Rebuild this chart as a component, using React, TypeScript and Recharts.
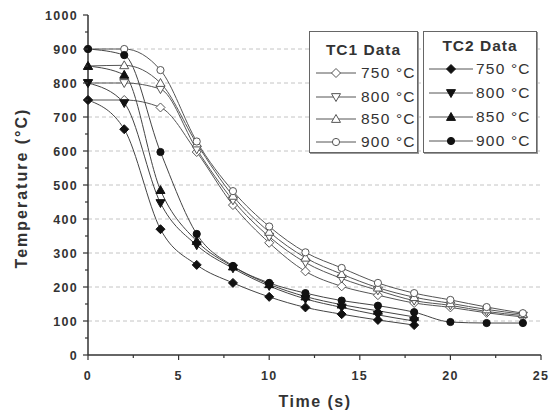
import { CartesianGrid, Line, LineChart, XAxis, YAxis } from "recharts";

const times = [0, 2, 4, 6, 8, 10, 12, 14, 16, 18, 20, 22, 24];

// TC1 (open markers)
const tc1_750 = [750, 750, 728, 597, 441, 330, 246, 202, 176, 153, 140, 124, 112];
const tc1_800 = [800, 800, 782, 605, 455, 348, 272, 225, 190, 160, 146, 128, 116];
const tc1_850 = [850, 852, 800, 622, 468, 362, 286, 238, 198, 170, 152, 134, 120];
const tc1_900 = [900, 900, 838, 628, 482, 378, 302, 256, 212, 182, 162, 141, 123];

// TC2 (filled markers)
const tc2_750 = [750, 664, 370, 265, 212, 171, 140, 120, 103, 88];
const tc2_800 = [800, 741, 447, 323, 255, 203, 165, 140, 118, 100];
const tc2_850 = [850, 824, 485, 335, 260, 208, 172, 148, 130, 112];
const tc2_900 = [900, 882, 597, 356, 262, 212, 182, 160, 145, 126, 97, 94, 94];

const xTicks = [0, 2.5, 5, 7.5, 10, 12.5, 15, 17.5, 20, 22.5, 25];
const yTicks = Array.from({ length: 21 }, (_, i) => i * 50);
const gridValues = [100, 200, 300, 400, 500, 600, 700, 800, 900];
const legendLabels = ["750 °C", "800 °C", "850 °C", "900 °C"];

const FONT = '"Liberation Sans", Arial, sans-serif';
const INK = "#333";

type Shape = "diamond" | "down" | "up" | "circle";

const toData = (vals: number[]) => vals.map((v, i) => ({ t: times[i], v }));

function Marker({ cx, cy, shape, filled }: { cx: number; cy: number; shape: Shape; filled: boolean }) {
  const fill = filled ? "#111" : "#fff";
  const stroke = filled ? "#111" : "#555";
  const r = 4.5;
  if (shape === "circle") {
    return <circle cx={cx} cy={cy} r={3.6} fill={fill} stroke={stroke} strokeWidth={1} />;
  }
  let pts = "";
  if (shape === "diamond") pts = `${cx},${cy - r} ${cx + r},${cy} ${cx},${cy + r} ${cx - r},${cy}`;
  if (shape === "down") pts = `${cx - r},${cy - r * 0.75} ${cx + r},${cy - r * 0.75} ${cx},${cy + r}`;
  if (shape === "up") pts = `${cx},${cy - r} ${cx + r},${cy + r * 0.75} ${cx - r},${cy + r * 0.75}`;
  return <polygon points={pts} fill={fill} stroke={stroke} strokeWidth={1} />;
}

const dotFor = (shape: Shape, filled: boolean) => (props: any) => (
  <Marker key={`${shape}-${filled}-${props.index}`} cx={props.cx} cy={props.cy} shape={shape} filled={filled} />
);

function XTick({ x, y, payload }: any) {
  const major = payload.value % 5 === 0;
  return (
    <g>
      <line x1={x} x2={x} y1={y} y2={y + (major ? 5 : 3)} stroke={INK} strokeWidth={1.2} />
      {major && (
        <text x={x} y={y + 25} textAnchor="middle" fontSize={12.5} fontWeight="bold" fill={INK} fontFamily={FONT} letterSpacing={1.3}>
          {payload.value}
        </text>
      )}
    </g>
  );
}

function YTick({ x, y, payload }: any) {
  const major = payload.value % 100 === 0;
  return (
    <g>
      <line x1={x - (major ? 5 : 3)} x2={x} y1={y} y2={y} stroke={INK} strokeWidth={1.2} />
      {major && (
        <text x={x - 10} y={y + 4.5} textAnchor="end" fontSize={12.5} fontWeight="bold" fill={INK} fontFamily={FONT} letterSpacing={1.3}>
          {payload.value}
        </text>
      )}
    </g>
  );
}

const tc1 = [
  { name: "tc1-750", vals: tc1_750, shape: "diamond" as Shape },
  { name: "tc1-800", vals: tc1_800, shape: "down" as Shape },
  { name: "tc1-850", vals: tc1_850, shape: "up" as Shape },
  { name: "tc1-900", vals: tc1_900, shape: "circle" as Shape },
];
const tc2 = [
  { name: "tc2-750", vals: tc2_750, shape: "diamond" as Shape },
  { name: "tc2-800", vals: tc2_800, shape: "down" as Shape },
  { name: "tc2-850", vals: tc2_850, shape: "up" as Shape },
  { name: "tc2-900", vals: tc2_900, shape: "circle" as Shape },
];

function LegendBox({ left, width, title, titleTop, rows, filled, lineX, lineW, textX }: any) {
  return (
    <div
      style={{
        position: "absolute",
        left,
        top: 31,
        width,
        height: 122,
        boxSizing: "border-box",
        border: "1.5px solid #666",
        boxShadow: "1px 1px 0 #999",
        background: "#fff",
        fontFamily: FONT,
        color: INK,
      }}
    >
      <div style={{ position: "absolute", left: 0, right: 0, top: titleTop, textAlign: "center", fontWeight: "bold", fontSize: 15.5, letterSpacing: 1, lineHeight: "18px" }}>
        {title}
      </div>
      {rows.map((r: any, i: number) => (
        <div key={r.name} style={{ position: "absolute", left: 0, top: r.top, height: 20, width: "100%" }}>
          <svg width={lineW + 10} height={20} style={{ position: "absolute", left: lineX - 5, top: 0 }}>
            <line x1={5} x2={lineW + 5} y1={10} y2={10} stroke="#555" strokeWidth={1} />
            <Marker cx={lineW / 2 + 5} cy={10} shape={r.shape} filled={filled} />
          </svg>
          <span style={{ position: "absolute", left: textX, top: 0, lineHeight: "20px", fontSize: 15.5, letterSpacing: 1.2, whiteSpace: "nowrap" }}>
            {legendLabels[i]}
          </span>
        </div>
      ))}
    </div>
  );
}

export default function App() {
  return (
    <div style={{ position: "absolute", left: 0, top: 0, width: 550, height: 413, background: "#fff", fontFamily: FONT }}>
      <LineChart width={550} height={413} margin={{ top: 15, right: 9, left: 28, bottom: 0 }}>
        <CartesianGrid vertical={false} horizontalValues={gridValues} stroke="#c4c4c4" strokeDasharray="4 3" />
        <XAxis
          type="number"
          dataKey="t"
          domain={[0, 25]}
          ticks={xTicks}
          interval={0}
          height={58}
          tickSize={0}
          tickMargin={0}
          tick={<XTick />}
          axisLine={{ stroke: INK, strokeWidth: 1.5 }}
          tickLine={false}
        />
        <YAxis
          type="number"
          domain={[0, 1000]}
          ticks={yTicks}
          interval={0}
          width={60}
          tickSize={0}
          tickMargin={0}
          tick={<YTick />}
          axisLine={{ stroke: INK, strokeWidth: 1.5 }}
          tickLine={false}
        />
        {tc1.map((s) => (
          <Line
            key={s.name}
            data={toData(s.vals)}
            dataKey="v"
            type="monotone"
            stroke="#555"
            strokeWidth={1}
            dot={dotFor(s.shape, false)}
            isAnimationActive={false}
          />
        ))}
        {tc2.map((s) => (
          <Line
            key={s.name}
            data={toData(s.vals)}
            dataKey="v"
            type="monotone"
            stroke="#444"
            strokeWidth={1}
            dot={dotFor(s.shape, true)}
            isAnimationActive={false}
          />
        ))}
      </LineChart>

      <div
        style={{
          position: "absolute",
          left: 22,
          top: 188,
          transform: "translate(-50%, -50%) rotate(-90deg)",
          whiteSpace: "nowrap",
          fontWeight: "bold",
          fontSize: 16,
          letterSpacing: 2,
          color: INK,
        }}
      >
        Temperature (°C)
      </div>
      <div
        style={{
          position: "absolute",
          left: 315,
          top: 402,
          transform: "translate(-50%, -50%)",
          whiteSpace: "nowrap",
          fontWeight: "bold",
          fontSize: 16,
          letterSpacing: 1.5,
          color: INK,
        }}
      >
        Time (s)
      </div>

      <LegendBox
        left={309}
        width={109}
        title="TC1 Data"
        titleTop={9}
        filled={false}
        lineX={6}
        lineW={40}
        textX={51}
        rows={tc1.map((s, i) => ({ ...s, top: [31, 55, 77, 100][i] }))}
      />
      <LegendBox
        left={423}
        width={114}
        title="TC2 Data"
        titleTop={5}
        filled={true}
        lineX={5}
        lineW={44}
        textX={52}
        rows={tc2.map((s, i) => ({ ...s, top: [27, 51, 75, 99][i] }))}
      />
    </div>
  );
}
